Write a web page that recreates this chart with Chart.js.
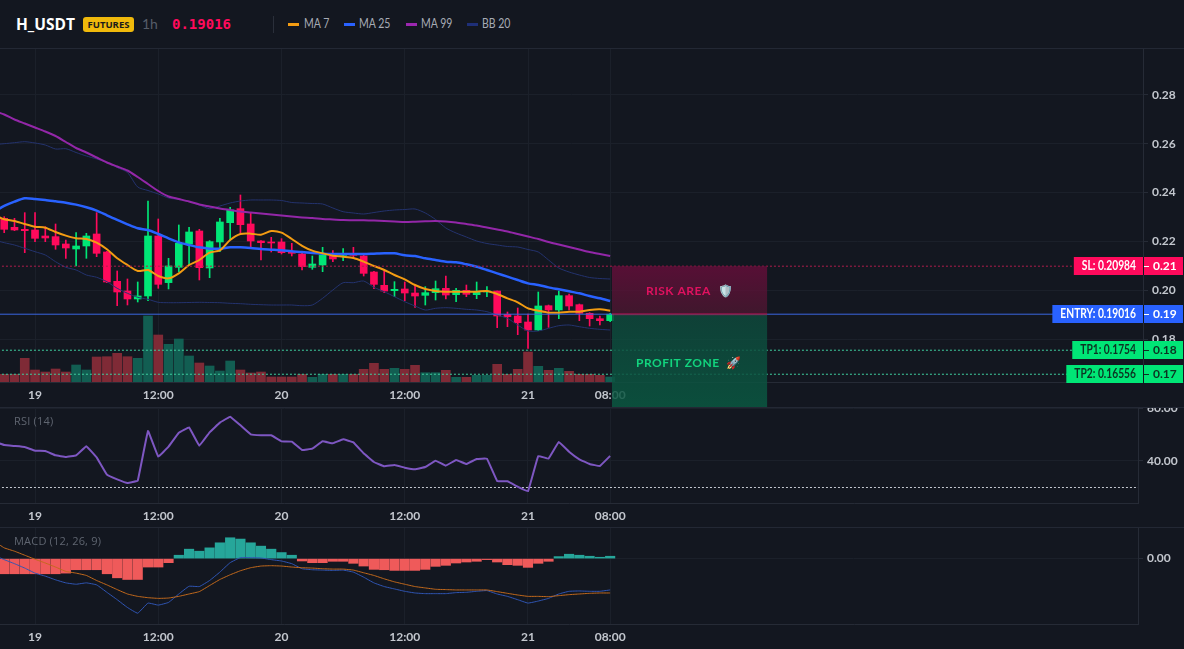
<!DOCTYPE html>
<html>
<head>
<meta charset="utf-8">
<title>H_USDT</title>
<script src="https://cdn.jsdelivr.net/npm/chart.js@4/dist/chart.umd.min.js"></script>
<style>
  html, body { margin: 0; height: 100%; background: #131720; overflow: hidden; }
  body { position: relative; width: 1184px; height: 649px; font-family: Lato, sans-serif; }
  canvas { position: absolute; left: 0; }
  .head { position: absolute; white-space: nowrap; line-height: 18px; top: 15px; }
  .key { font-size: 12.5px; color: #a6abb5; transform: scaleX(.84); transform-origin: left center; }
  .rule { position: absolute; left: 0; width: 1184px; height: 1px; background: #232834; }
  .dash { position: absolute; top: 23px; width: 11px; height: 3px; }
  .tag { position: absolute; font: 11px "Open Sans", sans-serif; letter-spacing: .2px; color: #5f6570; left: 14px; }
</style>
</head>
<body>
<div class="head" style="left:16px;font-family:'Open Sans',sans-serif;font-weight:700;font-size:15.5px;color:#fff">H_USDT</div>
<div class="head" style="left:83px;top:17px;width:51px;height:15px;line-height:15px;text-align:center;background:#f0b90b;border-radius:3px;font-family:'Open Sans',sans-serif;font-weight:700;font-size:9.5px;color:#1a1a1a">FUTURES</div>
<div class="head" style="left:142px;font-size:14px;color:#565d69">1h</div>
<div class="head" style="left:172px;font-family:'DejaVu Sans Mono',monospace;font-weight:700;font-size:14px;color:#ff0a5c">0.19016</div>
<div style="position:absolute;left:273px;top:16px;width:1px;height:17px;background:#2a2f3a"></div>
<div class="dash" style="left:288px;background:#f39c12"></div>
<div class="head key" style="left:304px">MA 7</div>
<div class="dash" style="left:344px;background:#2962ff"></div>
<div class="head key" style="left:359px">MA 25</div>
<div class="dash" style="left:406px;background:#9c27b0"></div>
<div class="head key" style="left:421px">MA 99</div>
<div class="dash" style="left:467px;background:#1e2f78"></div>
<div class="head key" style="left:482px">BB 20</div>

<div class="rule" style="top:382px"></div>
<canvas id="mainChart" width="1184" height="359" style="top:48px"></canvas>
<canvas id="rsiChart" width="1184" height="120" style="top:407px"></canvas>
<canvas id="macdChart" width="1184" height="122" style="top:527px"></canvas>

<div class="rule" style="top:48px"></div>
<div class="rule" style="top:407px"></div>
<div class="rule" style="top:527px"></div>
<div class="tag" style="top:413px">RSI (14)</div>
<div class="tag" style="top:533px">MACD (12, 26, 9)</div>

<script>
// hourly bars, hour 0 is the start of the 19th
const hours = [-4,-3,-2,-1,0,1,2,3,4,5,6,7,8,9,10,11,12,13,14,15,16,17,18,19,20,21,22,23,24,25,26,27,28,29,30,31,32,33,34,35,36,37,38,39,40,41,42,43,44,45,46,47,48,49,50,51,52,53,54,55,56];
const tickHours = [0, 12, 24, 36, 48, 56];
const tickLabels = ['19', '12:00', '20', '12:00', '21', '08:00'];
const priceTicks = [0.18, 0.20, 0.22, 0.24, 0.26, 0.28];

const opens = [null,.22946,.22577,.22495,.22468,.22222,.22195,.21894,.21689,.21812,.22304,.21566,.20364,.19968,.1964,.19763,.22222,.2031,.20938,.21894,.22427,.20911,.21976,.22768,.23342,.22714,.22017,.21976,.21976,.21553,.21484,.20937,.21033,.21402,.21429,.21511,.21402,.20746,.20199,.19981,.20049,.19885,.1979,.19899,.20076,.19817,.19995,.19817,.19926,.19967,.19011,.18943,.18697,.18369,.19366,.19189,.19776,.19407,.19052,.18833,.18751];
const closes = [null,.22495,.22468,.2244,.22126,.2214,.21853,.2173,.21812,.22222,.21512,.20337,.19927,.1964,.19763,.22222,.20241,.20993,.21921,.22386,.20924,.2199,.22796,.23287,.22686,.22017,.21949,.21935,.21539,.21512,.20965,.21074,.21442,.21279,.21511,.21429,.20691,.2024,.19967,.20036,.19885,.19762,.19899,.20063,.19803,.19995,.19831,.1994,.19967,.18943,.18915,.1867,.18369,.19353,.19189,.19776,.19353,.19052,.18833,.18751,.19016];
const highs = [null,.23014,.22946,.23178,.23178,.22604,.22714,.22058,.22358,.22331,.23178,.21594,.20788,.2046,.20337,.23656,.22919,.21307,.22673,.22577,.22495,.22031,.22946,.23397,.23902,.23151,.22031,.22167,.22113,.21921,.2158,.21402,.21757,.2162,.21702,.21757,.21442,.20773,.20787,.2035,.20336,.20199,.20145,.20377,.20582,.20076,.20213,.20336,.20145,.19967,.19107,.19271,.19025,.19926,.19393,.19967,.19844,.19434,.19079,.18943,.19052];
const lows = [null,.22358,.2244,.21539,.2199,.2199,.21676,.21307,.20993,.21307,.21375,.2031,.19367,.19394,.19517,.19572,.20077,.2005,.2076,.21033,.20419,.20514,.2158,.22058,.22331,.21716,.21238,.21566,.21484,.21402,.20829,.20855,.20759,.21169,.2121,.21306,.20582,.20063,.19899,.19735,.19571,.19298,.19393,.19598,.19639,.1953,.19735,.19653,.19735,.18465,.18506,.18178,.17618,.18342,.18478,.18833,.19189,.18751,.18533,.18574,.1871];
const volumes = [null,7.7,7.7,23.7,12,10,13,10,17,12,25,25.3,28.7,25.3,23.7,66,47,37.7,43,26,19,16,11,21,12,9,10,5,5,5,7.7,4.7,7.7,7.7,7.7,7.7,12.7,18.7,12.7,13.7,12.7,16.7,9.3,9.3,11.7,4.7,4.7,6.7,6.7,17.7,7.7,12.7,30,15.7,11.7,13.7,10.7,7.7,7.7,6.7,5];

const ma7 = [.23083,.22905,.22837,.22714,.22604,.22563,.22386,.22236,.22126,.22099,.21949,.21676,.21307,.21033,.20788,.20829,.20583,.20487,.20692,.21033,.21238,.21539,.21635,.22058,.22304,.22318,.22277,.22427,.22359,.22099,.2182,.2162,.21511,.21415,.21374,.2132,.21169,.20992,.20828,.20623,.20445,.20213,.20049,.19967,.1994,.1994,.1994,.1994,.19967,.19844,.19667,.19503,.19257,.19161,.19079,.19079,.1912,.1912,.19189,.19216,.19161];
const ma25 = [.23219,.23451,.23629,.23765,.23738,.23697,.23643,.23588,.23506,.23397,.2326,.23069,.22878,.227,.22536,.22468,.22304,.22126,.21962,.21853,.21757,.21703,.21703,.21757,.21757,.2173,.21689,.21662,.21635,.21594,.21566,.21524,.21497,.21483,.21483,.21483,.21483,.21497,.21511,.21511,.21429,.21402,.21306,.21238,.21169,.21142,.2106,.20964,.20828,.20691,.20555,.20418,.20281,.20213,.20117,.20036,.19954,.19872,.19762,.19667,.19557];
const ma99 = [.27344,.27201,.26996,.26832,.26668,.26504,.2632,.26074,.25828,.25643,.25438,.25234,.2507,.24906,.24639,.24352,.24066,.2384,.23738,.23635,.23512,.2343,.23348,.23287,.23225,.23184,.23143,.23102,.23061,.2302,.2298,.22959,.22918,.22898,.22877,.22869,.22865,.22852,.22836,.2282,.22795,.22807,.22824,.22836,.22816,.22775,.22713,.22652,.2257,.22488,.22406,.22303,.22201,.22098,.21975,.21873,.2177,.21668,.21566,.21484,.21402];
const bbUpper = [.25971,.26004,.26045,.26086,.26033,.25951,.25787,.25799,.25643,.255,.25377,.25234,.25029,.24824,.2423,.24086,.23943,.23779,.23717,.23635,.23492,.2334,.23451,.23574,.23656,.23697,.23697,.23697,.23676,.23594,.23574,.23553,.23533,.23369,.23217,.23164,.23123,.23184,.23246,.23287,.23307,.23328,.23164,.22898,.22549,.22344,.2218,.22016,.21914,.21852,.21791,.2177,.21668,.21566,.21238,.2091,.20746,.20623,.2052,.20479,.20459];
const bbLower = [.22057,.21947,.21852,.21717,.21578,.21443,.21168,.20939,.20828,.20623,.20529,.20348,.20078,.19873,.19709,.19627,.19504,.19488,.19488,.19496,.19504,.19496,.19488,.19463,.19447,.19422,.19406,.19393,.19393,.19393,.19365,.19393,.19668,.20008,.20307,.20307,.20377,.20119,.19938,.19734,.19529,.19352,.19188,.19258,.19283,.19258,.19217,.19188,.19119,.18984,.18848,.18574,.18328,.18328,.18438,.18545,.18574,.18504,.18438,.18397,.18369];

const rsi = [47.3,46.04,45.66,45.28,43.9,43.77,42.14,41.51,42.14,45.54,41.38,34.84,33.08,31.7,32.58,51.32,41.64,45.41,50.69,52.71,45.79,50.82,54.47,56.73,53.46,50.06,49.69,49.69,47.42,47.3,44.15,44.65,47.42,46.67,48.18,47.04,42.89,39.62,37.99,38.49,37.48,36.86,37.74,40.13,38.24,40.38,38.87,40.75,40.88,32.45,32.33,30.31,28.55,41.89,40.88,47.17,43.52,40.63,38.87,38.11,41.89];
const rsiFloor = 30;

const macdLine = [.00067,-.0002,-.001,-.00187,-.00287,-.00347,-.0042,-.0048,-.00507,-.0048,-.0052,-.00667,-.00813,-.00967,-.0108,-.0088,-.0092,-.00867,-.007,-.00547,-.00553,-.00433,-.00267,-.0008,.0002,.0002,.00013,-.0002,-.00047,-.001,-.002,-.0022,-.00227,-.00233,-.00227,-.00267,-.00367,-.0048,-.00553,-.006,-.00647,-.0068,-.00693,-.00693,-.00693,-.00673,-.00667,-.00647,-.00633,-.007,-.00747,-.00813,-.0088,-.0084,-.00787,-.007,-.00647,-.0064,-.00647,-.00647,-.0062];
const macdSignal = [.00347,.00213,.00147,.00067,-.00013,-.00087,-.00167,-.00253,-.00287,-.00333,-.00433,-.0052,-.00613,-.007,-.00747,-.00773,-.00787,-.0078,-.00747,-.007,-.00653,-.00533,-.00413,-.0032,-.0024,-.0018,-.00147,-.0014,-.00147,-.00167,-.0018,-.00187,-.002,-.00207,-.00207,-.00227,-.0028,-.00333,-.004,-.0046,-.00507,-.00553,-.0058,-.00607,-.00613,-.0062,-.0062,-.0062,-.0062,-.00653,-.00687,-.0072,-.00747,-.00747,-.00753,-.00733,-.00713,-.007,-.00687,-.0068,-.0068];
const macdHist = [null,-.003,-.003,-.003,-.003,-.003,-.003,-.00287,-.0022,-.0022,-.0022,-.003,-.0038,-.00413,-.00413,-.00167,-.00167,-.0008,.00067,.00187,.00147,.00213,.00313,.00413,.00387,.00313,.00247,.00187,.0012,.00067,-.00047,-.0008,-.0008,-.00053,-.00053,-.00093,-.00147,-.00213,-.0022,-.00233,-.00233,-.00233,-.00213,-.00153,-.00133,-.00087,-.00067,-.00053,-.0002,-.00067,-.0012,-.00133,-.00173,-.00093,-.00053,.0004,.00087,.00067,.00047,.00027,.00047];

const entryPrice = 0.19016;
const stopPrice = 0.20984;
const tp1Price = 0.1754;
const tp2Price = 0.16556;
const profitFloor = 0.1521;
const zoneStart = 56.18;
const zoneEnd = 71.28;

const GREEN = '#00e676';
const RED = '#ff0a5c';
const BLUE = '#2962ff';
const BAND = '#24336e';
const GRID = '#1b202a';
const EDGE = '#262b36';
const TICK = '#c3c7ce';
const FONT = 'Lato, sans-serif';

const series = (vals) => vals.map((y, i) => ({ x: hours[i], y }));
const span = (a, b) => hours.map((x, i) => ({ x, y: a[i] === null ? null : [a[i], b[i]] }));
const rising = (i) => closes[i] >= opens[i];

function lineSet(vals, color, width, order, extra) {
  return Object.assign({
    type: 'line', data: series(vals), borderColor: color, borderWidth: width,
    pointRadius: 0, tension: 0.25, order
  }, extra);
}

function levelSet(price, color, xMax, dash) {
  return {
    type: 'line', data: [{ x: -4, y: price }, { x: xMax, y: price }],
    borderColor: color, borderWidth: 1, borderDash: dash, pointRadius: 0, order: 1
  };
}

// tick labels may hang past the plot, so no inset is reserved for them
function noInset(s) {
  s.paddingTop = s.paddingBottom = s.paddingLeft = s.paddingRight = 0;
}

function xAxis(xMax, height) {
  return {
    type: 'linear', min: -3.41, max: xMax, offset: false,
    afterBuildTicks: (s) => { s.ticks = tickHours.map((v) => ({ value: v })); },
    afterFit: (s) => { s.height = height; noInset(s); },
    grid: { color: GRID, drawTicks: false, offset: false },
    border: { color: EDGE },
    ticks: {
      autoSkip: false, maxRotation: 0, padding: 6, color: TICK,
      font: { family: FONT, size: 12, weight: '700' },
      callback: (v) => tickLabels[tickHours.indexOf(v)]
    }
  };
}

function yAxis(min, max, values, width, digits, tickLength) {
  return {
    position: 'right', min, max,
    afterBuildTicks: (s) => { s.ticks = values.map((v) => ({ value: v })); },
    afterFit: (s) => { s.width = width; noInset(s); },
    grid: { color: GRID, tickLength, tickColor: EDGE },
    border: { color: EDGE },
    ticks: {
      padding: 4, color: TICK, font: { family: FONT, size: 12, weight: '700' },
      callback: (v) => v.toFixed(digits)
    }
  };
}

// the two shaded trade zones, painted over the axis so they run down past it
const zonePlugin = {
  id: 'zones',
  afterDraw(chart) {
    const { ctx, scales: { x, y } } = chart;
    const left = x.getPixelForValue(zoneStart);
    const right = x.getPixelForValue(zoneEnd);
    const top = y.getPixelForValue(stopPrice);
    const mid = y.getPixelForValue(entryPrice);
    const bottom = y.getPixelForValue(profitFloor);

    ctx.save();
    let fill = ctx.createLinearGradient(0, top, 0, mid);
    fill.addColorStop(0, 'rgba(100,14,58,0.85)');
    fill.addColorStop(1, 'rgba(72,24,48,0.85)');
    ctx.fillStyle = fill;
    ctx.fillRect(left, top, right - left, mid - top);

    fill = ctx.createLinearGradient(0, mid, 0, bottom);
    fill.addColorStop(0, 'rgba(15,72,60,0.85)');
    fill.addColorStop(1, 'rgba(11,88,66,0.85)');
    ctx.fillStyle = fill;
    ctx.fillRect(left, mid, right - left, bottom - mid);

    ctx.fillStyle = 'rgba(255,10,92,0.4)';
    ctx.fillRect(left, mid - 1, right - left, 2);

    ctx.textAlign = 'left';
    ctx.textBaseline = 'middle';
    ctx.letterSpacing = '0.5px';
    ctx.font = '700 12px ' + FONT;
    ctx.fillStyle = '#e0115f';
    ctx.fillText('RISK AREA  \u{1F6E1}\uFE0F', left + 34, (top + mid) / 2 + 1);
    ctx.fillStyle = '#12d47e';
    ctx.fillText('PROFIT ZONE  \u{1F680}', left + 24, y.getPixelForValue(tp1Price) + 13);
    ctx.restore();
  }
};

// price tags on the right edge: label, axis tick and rounded price in one block
const tagPlugin = {
  id: 'tags',
  afterDraw(chart) {
    const { ctx, chartArea, width, scales: { y } } = chart;
    const tags = [
      ['SL: 0.20984', stopPrice, RED, '#fff'],
      ['ENTRY: 0.19016', entryPrice, BLUE, '#fff'],
      ['TP1: 0.1754', tp1Price, GREEN, '#0c3322'],
      ['TP2: 0.16556', tp2Price, GREEN, '#0c3322']
    ];
    const axisX = chartArea.right;

    ctx.save();
    ctx.font = '700 12.5px ' + FONT;
    ctx.textBaseline = 'middle';
    tags.forEach(([text, price, bg, ink]) => {
      const py = Math.round(y.getPixelForValue(price));
      const w = ctx.measureText(text).width * 0.82;
      ctx.fillStyle = bg;
      ctx.fillRect(axisX - w - 15, py - 9, width - 1 - axisX + w + 15, 18);
      ctx.fillStyle = '#131720';
      ctx.fillRect(axisX, py - 9, 1, 18);
      ctx.fillStyle = ink;
      ctx.textAlign = 'right';
      ctx.fillText(text, axisX - 7, py, w);
      ctx.fillRect(axisX + 1, py, 5, 1);
      ctx.textAlign = 'left';
      ctx.font = '700 12px ' + FONT;
      ctx.fillText(price.toFixed(2), axisX + 10, py);
      ctx.font = '700 12.5px ' + FONT;
    });
    ctx.restore();
  }
};

const common = {
  responsive: false,
  animation: false,
  plugins: { legend: { display: false }, tooltip: { enabled: false } }
};

new Chart(document.getElementById('mainChart'), {
  data: {
    datasets: [
      { type: 'bar', yAxisID: 'vol', grouped: false, order: 9, barThickness: 9,
        data: series(volumes), backgroundColor: hours.map((h, i) => (rising(i) ? '#125e52' : '#7f2a36')) },
      { type: 'bar', grouped: false, order: 7, barThickness: 1,
        data: span(lows, highs), backgroundColor: hours.map((h, i) => (rising(i) ? GREEN : RED)) },
      { type: 'bar', grouped: false, order: 6, barThickness: 7,
        data: span(opens, closes), backgroundColor: hours.map((h, i) => (rising(i) ? GREEN : RED)) },
      lineSet(bbUpper, BAND, 1, 5),
      lineSet(bbLower, BAND, 1, 5),
      lineSet(ma99, '#9327a8', 2, 4),
      lineSet(ma25, BLUE, 2.5, 3),
      lineSet(ma7, '#f39c12', 2, 2),
      levelSet(entryPrice, '#3a66e0', 107.88, []),
      levelSet(stopPrice, '#b01c4c', 107.88, [2, 2]),
      levelSet(tp1Price, '#3fd0a0', 107.88, [2, 2]),
      levelSet(tp2Price, '#3fd0a0', 107.88, [2, 2])
    ]
  },
  options: Object.assign({}, common, {
    layout: { padding: 0, autoPadding: false },
    scales: {
      x: xAxis(107.88, 25),
      y: yAxis(0.16238, 0.29926, priceTicks, 41, 2, 5),
      vol: { display: false, min: 0, max: 334 }
    }
  }),
  plugins: [zonePlugin, tagPlugin]
});

new Chart(document.getElementById('rsiChart'), {
  data: {
    datasets: [
      lineSet(rsi, '#7e57c2', 2, 1, { tension: 0.05 }),
      levelSet(rsiFloor, '#c4c8d0', 107.4, [2, 2])
    ]
  },
  options: Object.assign({}, common, {
    layout: { padding: { top: 1 }, autoPadding: false },
    scales: {
      x: xAxis(107.4, 24),
      y: yAxis(24.15, 60, [40, 60], 46, 2, 5)
    }
  })
});

new Chart(document.getElementById('macdChart'), {
  data: {
    datasets: [
      { type: 'bar', grouped: false, order: 5, barThickness: 9.5, data: series(macdHist),
        backgroundColor: macdHist.map((v) => (v >= 0 ? '#26a69a' : '#ef5a5a')) },
      lineSet(macdLine, '#3056b5', 1, 2, { tension: 0.1 }),
      lineSet(macdSignal, '#c46a1c', 1, 1, { tension: 0.1 })
    ]
  },
  options: Object.assign({}, common, {
    layout: { padding: { top: 1 }, autoPadding: false },
    scales: {
      x: xAxis(107.4, 25),
      y: yAxis(-0.01294, 0.00606, [0], 46, 2, 5)
    }
  })
});
</script>
</body>
</html>
